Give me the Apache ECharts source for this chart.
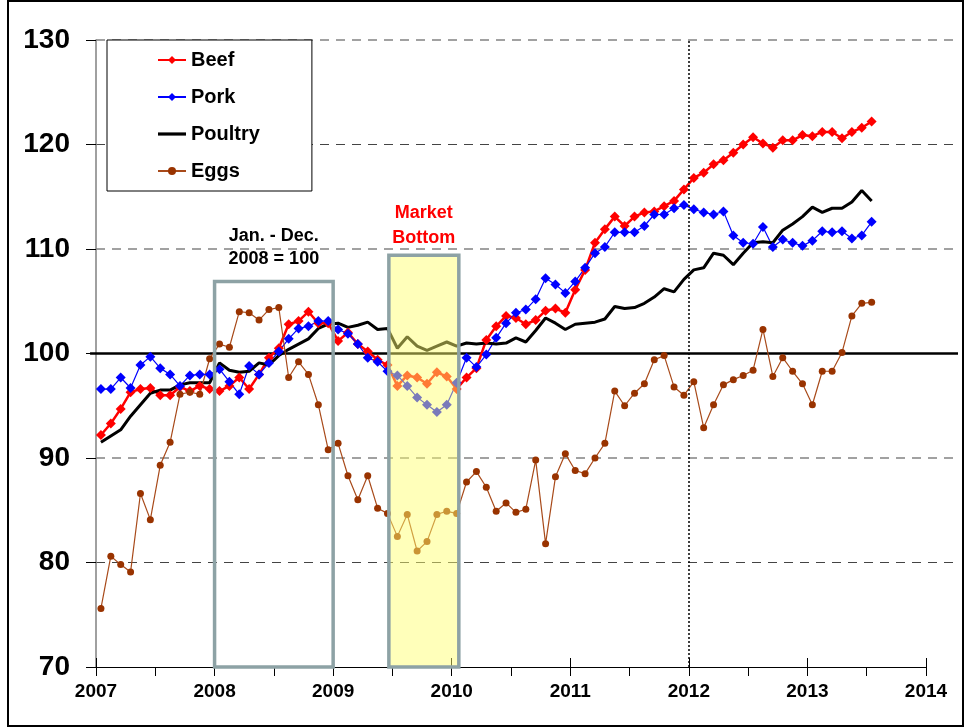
<!DOCTYPE html>
<html><head><meta charset="utf-8">
<script src="https://cdn.jsdelivr.net/npm/echarts@6/dist/echarts.min.js"></script>
<style>html,body{margin:0;padding:0;background:#fff}#c{width:969px;height:728px}</style>
</head><body><div id="c"></div>
<script>
// Monthly categories Jan 2007 - Jul 2013
const months = [];
for (let y = 2007; y <= 2013; y++) for (let m = 1; m <= 12; m++) { if (y === 2013 && m > 7) break; months.push(y + '-' + String(m).padStart(2, '0')); }

const beef = [92.2,93.3,94.7,96.3,96.6,96.7,96.0,96.0,96.8,96.4,
  96.9,96.6,96.4,96.9,97.7,96.6,98.0,99.6,100.5,102.8,
  103.1,104.0,102.9,102.9,101.2,102.0,100.9,100.2,99.4,98.9,
  96.9,97.9,97.7,97.1,98.2,97.8,96.6,97.7,98.6,101.3,
  102.6,103.6,103.4,102.8,103.2,104.1,104.3,103.9,106.1,108.0,
  110.6,111.9,113.1,112.2,113.1,113.5,113.6,114.1,114.6,115.7,
  116.8,117.3,118.1,118.5,119.2,120.0,120.7,120.1,119.7,120.4,
  120.4,120.9,120.8,121.2,121.2,120.6,121.2,121.6,122.2];
const pork = [96.6,96.6,97.7,96.7,98.9,99.7,98.6,98.0,96.9,97.9,
  98.0,98.0,98.5,97.3,96.1,98.8,98.0,99.1,100.2,101.4,
  102.4,102.6,103.1,103.1,102.3,101.9,100.9,99.6,99.2,98.3,
  97.9,96.9,95.8,95.1,94.4,95.1,97.2,99.6,98.7,99.9,
  101.5,102.9,103.9,104.2,105.2,107.2,106.6,105.8,106.9,108.2,
  109.6,110.2,111.6,111.6,111.6,112.2,113.3,113.3,113.9,114.2,
  113.8,113.5,113.3,113.6,111.3,110.6,110.5,112.1,110.2,110.9,
  110.6,110.3,110.8,111.7,111.6,111.7,111.0,111.3,112.6];
const poultry = [91.5,92.1,92.7,94.0,95.1,96.2,96.5,96.5,97.0,97.2,
  97.2,97.2,99.1,98.4,98.2,98.3,99.1,98.9,99.8,100.4,
  100.9,101.4,102.4,102.8,102.9,102.5,102.7,103.0,102.3,102.4,
  100.5,101.6,100.7,100.3,100.7,101.1,100.7,101.0,100.9,101.0,
  100.9,101.0,101.5,101.1,102.2,103.4,102.9,102.3,102.8,102.9,
  103.0,103.3,104.5,104.3,104.4,104.8,105.4,106.2,105.9,107.1,
  108.0,108.2,109.6,109.4,108.5,109.6,110.6,110.7,110.6,111.8,
  112.4,113.1,114.0,113.5,113.9,113.9,114.5,115.6,114.6];
const eggs = [75.6,80.6,79.8,79.1,86.6,84.1,89.3,91.5,96.1,96.3,
  96.1,99.5,100.9,100.6,104.0,103.9,103.2,104.2,104.4,97.7,
  99.2,98.0,95.1,90.8,91.4,88.3,86.0,88.3,85.2,84.7,
  82.5,84.6,81.1,82.0,84.6,84.9,84.7,87.7,88.7,87.2,
  84.9,85.7,84.8,85.1,89.8,81.8,88.2,90.4,88.8,88.5,
  90.0,91.4,96.4,95.0,96.2,97.1,99.4,99.8,96.8,96.0,
  97.3,92.9,95.1,97.0,97.5,97.9,98.4,102.3,97.8,99.6,
  98.3,97.1,95.1,98.3,98.3,100.1,103.6,104.8,104.9];

const yTicks = [70, 80, 90, 100, 110, 120, 130];
const dashedLevels = [80, 90, 110, 120, 130];
const xYears = [2007, 2008, 2009, 2010, 2011, 2012, 2013, 2014];

const baseLine = 100;
const refYear = 2012;
const lineSpan = [2006.95, 2014.27];
const baseBox = { x0: 2008, x1: 2009, top: 106.9, label: 'Jan. - Dec.\n2008 = 100' };
const bottomBox = { x0: 2009.47, x1: 2010.06, top: 109.4, label: 'Market\nBottom' };

const toX = s => { const p = s.split('-').map(Number); return p[0] + (p[1] - 0.5) / 12; };
const pairs = arr => arr.map((v, i) => [toX(months[i]), v]);

const FONT = 'Arial, "Liberation Sans", sans-serif';
const BOXC = '#8DA2A5';

const chart = echarts.init(document.getElementById('c'), null, { renderer: 'canvas' });
const border = {
  type: 'rect', shape: { x: 8, y: 1, width: 955, height: 725 },
  style: { fill: 'none', stroke: '#000', lineWidth: 2 }, silent: true, z: 100
};
const option = {
  animation: false,
  textStyle: { fontFamily: FONT },
  grid: { left: 96, right: 969 - 926, top: 40, bottom: 728 - 667 },
  xAxis: [{
    type: 'value', min: xYears[0], max: xYears[xYears.length - 1], interval: 1,
    axisLine: { show: true, onZero: false, lineStyle: { color: '#000', width: 1 } },
    axisTick: { show: true, length: 9, lineStyle: { color: '#000' } },
    minorTick: { show: true, splitNumber: 2, length: 9, lineStyle: { color: '#000' } },
    axisLabel: { fontSize: 19, fontWeight: 'bold', color: '#000', margin: 15, fontFamily: FONT, formatter: v => String(v) },
    splitLine: { show: false }
  }, {
    type: 'value', min: xYears[0], max: xYears[xYears.length - 1], interval: 1, position: 'bottom',
    axisLine: { show: false }, axisTick: { show: true, inside: true, length: 9, lineStyle: { color: '#000' } },
    axisLabel: { show: false }, splitLine: { show: false }
  }],
  yAxis: {
    type: 'value', min: yTicks[0], max: yTicks[yTicks.length - 1], interval: 10,
    axisLine: { show: true, onZero: false, lineStyle: { color: '#808080', width: 1.5 } },
    axisTick: { show: true, length: 10, lineStyle: { color: '#000' } },
    axisLabel: { fontSize: 28, fontWeight: 'bold', color: '#000', margin: 26, fontFamily: FONT },
    splitLine: { show: false }
  },
  legend: {
    orient: 'vertical', left: 107, top: 40,
    data: ['Beef', 'Pork', { name: 'Poultry', icon: 'path://M0,0 L28,0 L28,3.2 L0,3.2 Z' }, 'Eggs'],
    backgroundColor: '#fff', borderColor: '#000', borderWidth: 1,
    padding: [10, 52, 10, 50], itemGap: 17, itemWidth: 28, itemHeight: 10,
    textStyle: { fontSize: 20, fontWeight: 'bold', color: '#000', fontFamily: FONT }
  },
  graphic: [border],
  series: [
    {
      name: 'Beef', type: 'line', data: pairs(beef), symbol: 'diamond', symbolSize: 10,
      lineStyle: { color: '#FF0000', width: 2.5 }, itemStyle: { color: '#FF0000' },
      markLine: {
        silent: true, symbol: 'none', label: { show: false },
        data: [{ xAxis: refYear, lineStyle: { color: '#000', width: 1.5, type: [2, 2] } }]
      }
    },
    {
      name: 'Pork', type: 'line', data: pairs(pork), symbol: 'diamond', symbolSize: 10,
      lineStyle: { color: '#0000FF', width: 1.2 }, itemStyle: { color: '#0000FF' }
    },
    {
      name: 'Poultry', type: 'line', data: pairs(poultry), symbol: 'none',
      lineStyle: { color: '#000', width: 3 }, itemStyle: { color: '#000' }
    },
    {
      name: 'Eggs', type: 'line', data: pairs(eggs), symbol: 'circle', symbolSize: 7,
      lineStyle: { color: '#A84A1A', width: 1.2 }, itemStyle: { color: '#993300' },
      markArea: {
        silent: true, z: 10,
        data: [
          [{ coord: [baseBox.x0, baseBox.top],
             itemStyle: { color: 'rgba(0,0,0,0)', borderColor: BOXC, borderWidth: 3.5 },
             label: { show: true, position: 'top', distance: 9, formatter: baseBox.label, color: '#000', fontSize: 18, fontWeight: 'bold', lineHeight: 23, fontFamily: FONT } },
           { coord: [baseBox.x1, yTicks[0]] }],
          [{ coord: [bottomBox.x0, bottomBox.top],
             itemStyle: { color: 'rgba(255,255,110,0.48)', borderColor: BOXC, borderWidth: 3.5 },
             label: { show: true, position: 'top', distance: 3, formatter: bottomBox.label, color: '#FF0000', fontSize: 18, fontWeight: 'bold', lineHeight: 25, fontFamily: FONT } },
           { coord: [bottomBox.x1, yTicks[0]] }]
        ]
      }
    }
  ]
};
chart.setOption(option);

// Reference lines that run past the plot edge, placed through the chart's own scales
const px = (x, y) => chart.convertToPixel({ gridIndex: 0 }, [x, y]);
const extra = [border];
dashedLevels.forEach(v => {
  const a = px(xYears[0], v), b = px(lineSpan[1], v);
  extra.push({ type: 'line', silent: true, z: 0,
    shape: { x1: a[0], y1: a[1], x2: b[0], y2: b[1] },
    style: { stroke: '#444', lineWidth: 1.2, lineDash: [9, 7] } });
});
{
  const a = px(lineSpan[0], baseLine), b = px(lineSpan[1], baseLine);
  extra.push({ type: 'line', silent: true, z: 1,
    shape: { x1: a[0], y1: a[1], x2: b[0], y2: b[1] },
    style: { stroke: '#000', lineWidth: 2.5 } });
}
chart.setOption({ graphic: extra });
</script></body></html>
